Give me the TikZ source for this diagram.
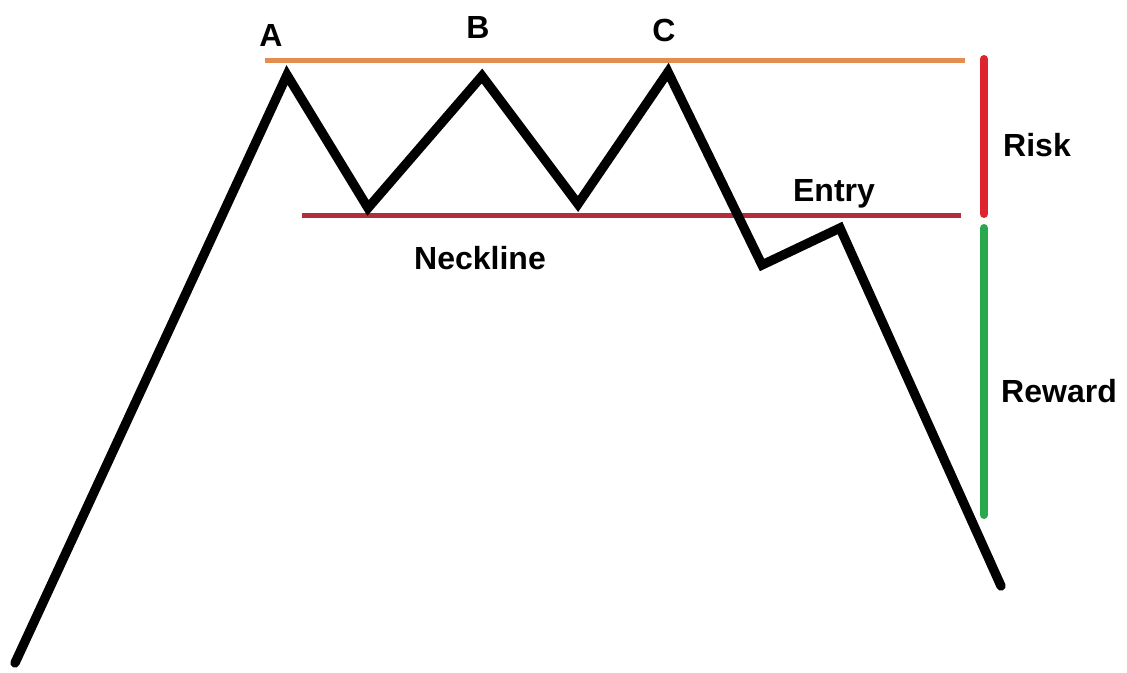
\documentclass[tikz,border=0pt]{standalone}
\usepackage{fontspec}
\setmainfont{Liberation Sans}
\definecolor{topline}{RGB}{228,142,78}
\definecolor{neckred}{RGB}{180,45,62}
\definecolor{riskred}{RGB}{222,36,46}
\definecolor{rewardgreen}{RGB}{42,168,78}
\tikzset{
  price/.style={line width=7pt, line join=miter, line cap=round},
  label/.style={anchor=base, inner sep=0.75pt, font=\fontsize{24}{28}\selectfont\bfseries},
  bar/.style={line width=6pt, line cap=round}
}
\begin{document}
\begin{tikzpicture}[x=0.75pt,y=0.75pt,yscale=-1,xscale=1]
\useasboundingbox (0,0) rectangle (1127,673);

% Price path points
\coordinate (start) at (15,663);
\coordinate (peakA) at (287,75);
\coordinate (low1) at (368,208);
\coordinate (peakB) at (482,76);
\coordinate (low2) at (578,204);
\coordinate (peakC) at (668,72);
\coordinate (low3) at (762,265);
\coordinate (entry) at (840,228);
\coordinate (finish) at (1001,586);

%Straight Lines (resistance)
\coordinate (resL) at (265,61);
\coordinate (resR) at (965,61);
\draw [color=topline, line width=3.75pt] (resL) -- (resR);
%Straight Lines (neckline)
\coordinate (neckL) at (302,216);
\coordinate (neckR) at (961,216);
\draw [color=neckred, line width=3.75pt] (neckL) -- (neckR);

%Price path
\draw [price] (start) -- (peakA) -- (low1) -- (peakB) -- (low2) -- (peakC) -- (low3) -- (entry) -- (finish);

%Risk and reward bars
\coordinate (riskT) at (984,59);
\coordinate (riskB) at (984,214);
\coordinate (rewT) at (984,228);
\coordinate (rewB) at (984,515);
\draw [bar, color=riskred] (riskT) -- (riskB);
\draw [bar, color=rewardgreen] (rewT) -- (rewB);

% Text Node
\node [label] (labA) at (271,47) {A};
% Text Node
\node [label] (labB) at (478,39) {B};
% Text Node
\node [label] (labC) at (664,42) {C};
% Text Node
\node [label] (labEntry) at (834,202) {Entry};
% Text Node
\node [label] (labNeck) at (480,270) {Neckline};
% Text Node
\node [label] (labRisk) at (1037,157) {Risk};
% Text Node
\node [label] (labReward) at (1059,402) {Reward};

\end{tikzpicture}
\end{document}
